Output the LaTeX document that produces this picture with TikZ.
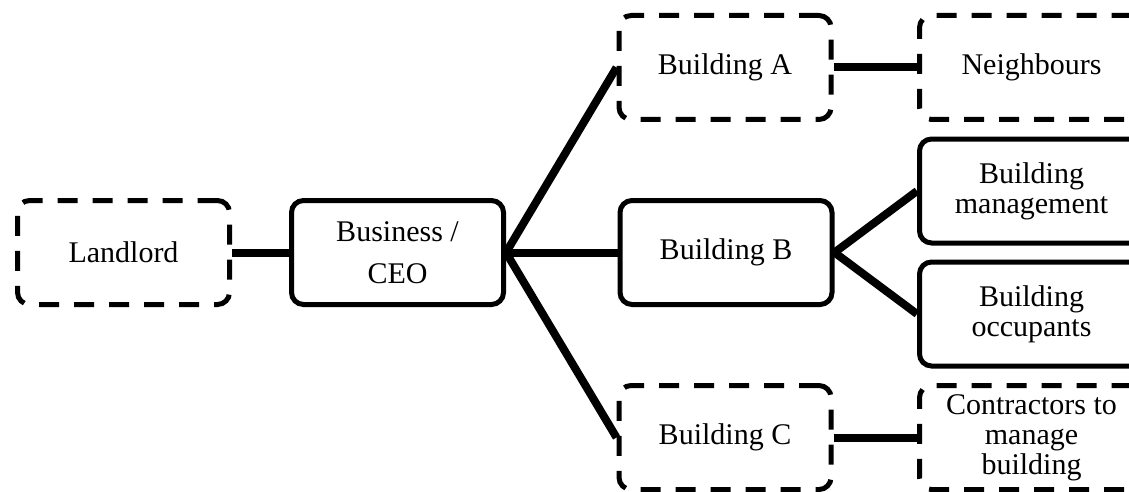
\documentclass[tikz,border=0pt]{standalone}
\usepackage{fontspec}
\setmainfont{Liberation Serif}
\tikzset{every node/.append style={font=\fontsize{15}{15}\selectfont}}
\tikzset{box/.style={draw,line width=2.5pt,rounded corners=6pt,minimum width=106pt,minimum height=52pt,align=center,inner sep=0pt}}
\tikzset{dbox/.style={box,dash pattern=on 10pt off 7.5pt}}
\tikzset{wide/.style={minimum width=112pt}}
\tikzset{link/.style={line width=4pt}}

\begin{document}
\begin{tikzpicture}[x=0.5pt,y=-0.5pt]
\clip (0,0) rectangle (1129,492);
\node[dbox] (land) at (123.5,252.5) {Landlord};
\node[box] (ceo) at (397.5,252.5) {Business /\\[6pt]CEO};
\node[dbox] (bA) at (725,67.5) {Building A};
\node[box] (bB) at (726,252.5) {Building B};
\node[dbox] (bC) at (725,437.5) {Building C};
\node[dbox,wide] (nb) at (1031.5,67.5) {Neighbours};
\node[box,wide] (mgmt) at (1031.5,191) {Building\\management};
\node[box,wide] (occ) at (1031.5,314) {Building\\occupants};
\node[dbox,wide] (con) at (1031.5,437.5) {Contractors to\\manage\\building};
\draw[link] (land) -- (ceo);
\draw[link] (ceo.east) -- (bA.west);
\draw[link] (ceo.east) -- (bB.west);
\draw[link] (ceo.east) -- (bC.west);
\draw[link] (bA) -- (nb);
\draw[link] (bB.east) -- (mgmt.west);
\draw[link] (bB.east) -- (occ.west);
\draw[link] (bC) -- (con);
\end{tikzpicture}
\end{document}
